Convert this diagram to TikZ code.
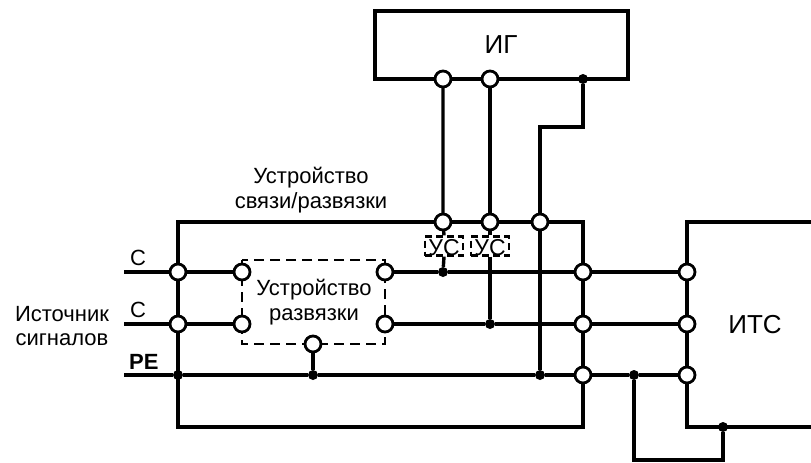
\documentclass[tikz,border=0pt]{standalone}
\usepackage{fontspec}
\setmainfont{Liberation Sans}
\begin{document}
\begin{tikzpicture}[x=1pt,y=-1pt,
  wire/.style={line width=3.4pt},
  term/.style={circle,draw,fill=white,line width=2.8pt,minimum size=16pt,inner sep=0pt},
  jdot/.style={circle,fill=black,minimum size=10pt,inner sep=0pt},
  lbl/.style={font=\fontsize{22}{24.5}\selectfont,inner sep=0pt,align=center},
  big/.style={font=\fontsize{26}{28}\selectfont,inner sep=0pt},
  ustext/.style={font=\fontsize{23}{24}\selectfont,inner sep=0pt},
  usbox/.style={draw,line width=2.2pt,dash pattern=on 7pt off 4pt,minimum width=38pt,minimum height=19pt,inner sep=0pt},
  dbox/.style={draw,line width=2.2pt,dash pattern=on 10pt off 6pt}]
\useasboundingbox (0,0) rectangle (811,463);
\begin{scope}
\clip (0,0) rectangle (811,463);
% IG box
\draw[wire] (375,11) rectangle (628,79);
\node[big] (ig) at (501,45) {ИГ};
% coupling box
\draw[wire] (178,222) rectangle (583,427);
% ITS box
\draw[wire] (811,222) -- (687,222) -- (687,427) -- (811,427);
\node[big] (its) at (755,325) {ИТС};
% decoupling dashed box
\draw[dbox] (242,260) rectangle (385,344);
\node[lbl] (dec) at (314,302) {Устройство\\развязки};
% labels
\node[lbl] (cs) at (311,190) {Устройство\\связи/развязки};
\node[lbl] (src) at (62,326) {Источник\\сигналов};
\node[lbl,anchor=south west] (c1) at (130,266) {С};
\node[lbl,anchor=south west] (c2) at (130,318) {С};
\node[lbl,anchor=south west] (pe) at (129,370) {\textbf{PE}};
% free ends
\coordinate (s1) at (124,272);
\coordinate (s2) at (124,324);
\coordinate (s3) at (124,375);
\coordinate (a1) at (583,127);
\coordinate (a2) at (540,127);
\coordinate (b1) at (634,460);
\coordinate (b2) at (723,460);
% US boxes
\node[usbox] (us1) at (444,246) {};
\node[usbox] (us2) at (490,246) {};
\node[ustext] (ust1) at (444,248) {УС};
\node[ustext] (ust2) at (490,248) {УС};
% dots
\node[jdot] (igd) at (583,79) {};
\node[jdot] (d1) at (443,272) {};
\node[jdot] (d2) at (490,324) {};
\node[jdot] (l3) at (178,375) {};
\node[jdot] (pe313) at (313,375) {};
\node[jdot] (pe540) at (540,375) {};
\node[jdot] (pe634) at (634,375) {};
\node[jdot] (itsd) at (723,427) {};
% wires
\draw[wire] (s1) -- (178,272) -- (242,272);
\draw[wire] (s2) -- (178,324) -- (242,324);
\draw[wire] (385,272) -- (d1) -- (583,272) -- (687,272);
\draw[wire] (385,324) -- (d2) -- (583,324) -- (687,324);
\draw[wire] (s3) -- (l3) -- (pe313) -- (pe540) -- (583,375) -- (pe634) -- (687,375);
\draw[wire] (313,344) -- (pe313);
\draw[wire] (igd) -- (a1) -- (a2) -- (540,222) -- (pe540);
\draw[wire] (pe634) -- (b1) -- (b2) -- (itsd);
\draw[wire] (443,79) -- (443,222) -- (us1.north);
\draw[wire] (us1.south) -- (d1);
\draw[wire] (490,79) -- (490,222) -- (us2.north);
\draw[wire] (us2.south) -- (d2);
% terminals
\node[term] (ig1) at (443,79) {};
\node[term] (ig2) at (490,79) {};
\node[term] (cs1) at (443,222) {};
\node[term] (cs2) at (490,222) {};
\node[term] (cs3) at (540,222) {};
\node[term] (l1) at (178,272) {};
\node[term] (l2) at (178,324) {};
\node[term] (r1) at (583,272) {};
\node[term] (r2) at (583,324) {};
\node[term] (r3) at (583,375) {};
\node[term] (t1) at (687,272) {};
\node[term] (t2) at (687,324) {};
\node[term] (t3) at (687,375) {};
\node[term] (dl1) at (242,272) {};
\node[term] (dl2) at (242,324) {};
\node[term] (dr1) at (385,272) {};
\node[term] (dr2) at (385,324) {};
\node[term] (db) at (313,344) {};
\end{scope}
\end{tikzpicture}
\end{document}
